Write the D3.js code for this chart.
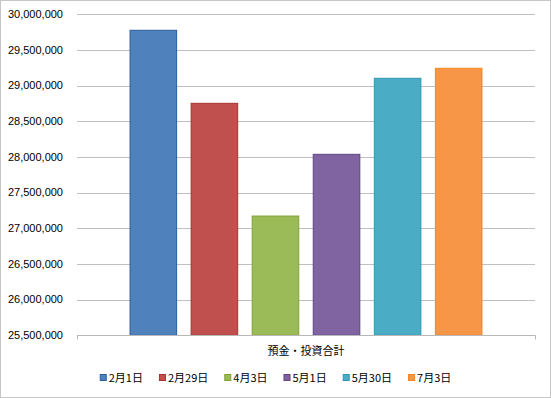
<!DOCTYPE html>
<html><head><meta charset="utf-8">
<script src="https://cdn.jsdelivr.net/npm/d3@7"></script>
<style>body{margin:0;background:#fff}svg{display:block}</style>
</head><body>
<svg id="c" width="551" height="398"></svg>
<script>
const categories = ["預金・投資合計"];
const seriesNames = ["2月1日", "2月29日", "4月3日", "5月1日", "5月30日", "7月3日"];
const seriesValues = [29776000, 28752000, 27172000, 28037000, 29103000, 29243000];
const yTicks = [25500000, 26000000, 26500000, 27000000, 27500000, 28000000, 28500000, 29000000, 29500000, 30000000];
const fills = ["#4F81BD", "#C0504D", "#9BBB59", "#8064A2", "#4BACC6", "#F79646"];
const strokes = ["#2A5E9F", "#A8322F", "#7EA236", "#5F4385", "#2C98B4", "#F5841F"];

const svg = d3.select("#c");
const W = 551, H = 398;
const plot = {left: 77, right: 535, top: 14.3, bottom: 335.3};

svg.append("rect").attr("x", 0.5).attr("y", 0.5).attr("width", W - 1).attr("height", H - 1)
  .attr("fill", "#fff").attr("stroke", "#c6c6c6");

const y = d3.scaleLinear().domain([25500000, 30000000]).range([plot.bottom, plot.top]);
const x0 = d3.scaleBand().domain(categories).range([plot.left, plot.right]);
const bw = x0.bandwidth();
const x1 = d3.scaleBand().domain(seriesNames)
  .range([x0(categories[0]) + bw * 0.1, x0(categories[0]) + bw * 0.9])
  .paddingInner(0.221).paddingOuter(0.1105);

const fmt = d3.format(",");
const cy = v => Math.round(y(v)) + 0.5;

// gridlines
svg.append("g").selectAll("line").data(yTicks.slice(1)).join("line")
  .attr("x1", plot.left).attr("x2", plot.right)
  .attr("y1", cy).attr("y2", cy)
  .attr("stroke", "#c0c0c0").attr("stroke-width", 1);

// y labels
svg.append("g").selectAll("text").data(yTicks).join("text")
  .attr("x", 63).attr("y", d => y(d)).attr("dy", "0.35em")
  .attr("text-anchor", "end")
  .attr("font-family", "'Liberation Sans', Arial, sans-serif").attr("font-size", 11)
  .attr("fill", "#000").text(d => fmt(d));

// bars
svg.append("g").selectAll("rect").data(seriesValues).join("rect")
  .attr("x", (d, i) => x1(seriesNames[i]) + 0.5)
  .attr("y", d => y(d))
  .attr("width", x1.bandwidth() - 1)
  .attr("height", d => y(25500000) - y(d))
  .attr("fill", (d, i) => fills[i])
  .attr("stroke", (d, i) => strokes[i]).attr("stroke-width", 1);

// bottom axis
const by = Math.round(y(25500000)) + 0.5;
const ax = svg.append("g").attr("stroke", "#b8b8b8").attr("stroke-width", 1);
ax.append("line").attr("x1", plot.left).attr("x2", plot.right + 0.5).attr("y1", by).attr("y2", by);
[plot.left, plot.right].forEach(xx => {
  ax.append("line").attr("x1", Math.round(xx) + 0.5).attr("x2", Math.round(xx) + 0.5)
    .attr("y1", by).attr("y2", by + 4);
});

// category label
svg.append("text").attr("x", x0(categories[0]) + bw / 2).attr("y", 355)
  .attr("text-anchor", "middle")
  .attr("font-family", "'Noto Sans CJK JP', sans-serif").attr("font-size", 11)
  .attr("fill", "#000").text(categories[0]);

// legend
const lg = svg.append("g");
const items = seriesNames.map((n, i) => {
  const g = lg.append("g");
  g.append("rect").attr("x", 0.5).attr("y", -3.5).attr("width", 6).attr("height", 6)
    .attr("fill", fills[i]).attr("stroke", strokes[i]);
  const t = g.append("text").attr("x", 9).attr("y", 4)
    .attr("font-family", "'Noto Sans CJK JP', sans-serif").attr("font-size", 11)
    .attr("fill", "#000").text(n);
  return {g, w: 9 + t.node().getComputedTextLength()};
});
const gap = 16;
const total = d3.sum(items, d => d.w) + gap * (items.length - 1);
let cx = W / 2 - total / 2;
items.forEach(it => { it.g.attr("transform", `translate(${cx},378)`); cx += it.w + gap; });
</script>
</body></html>
